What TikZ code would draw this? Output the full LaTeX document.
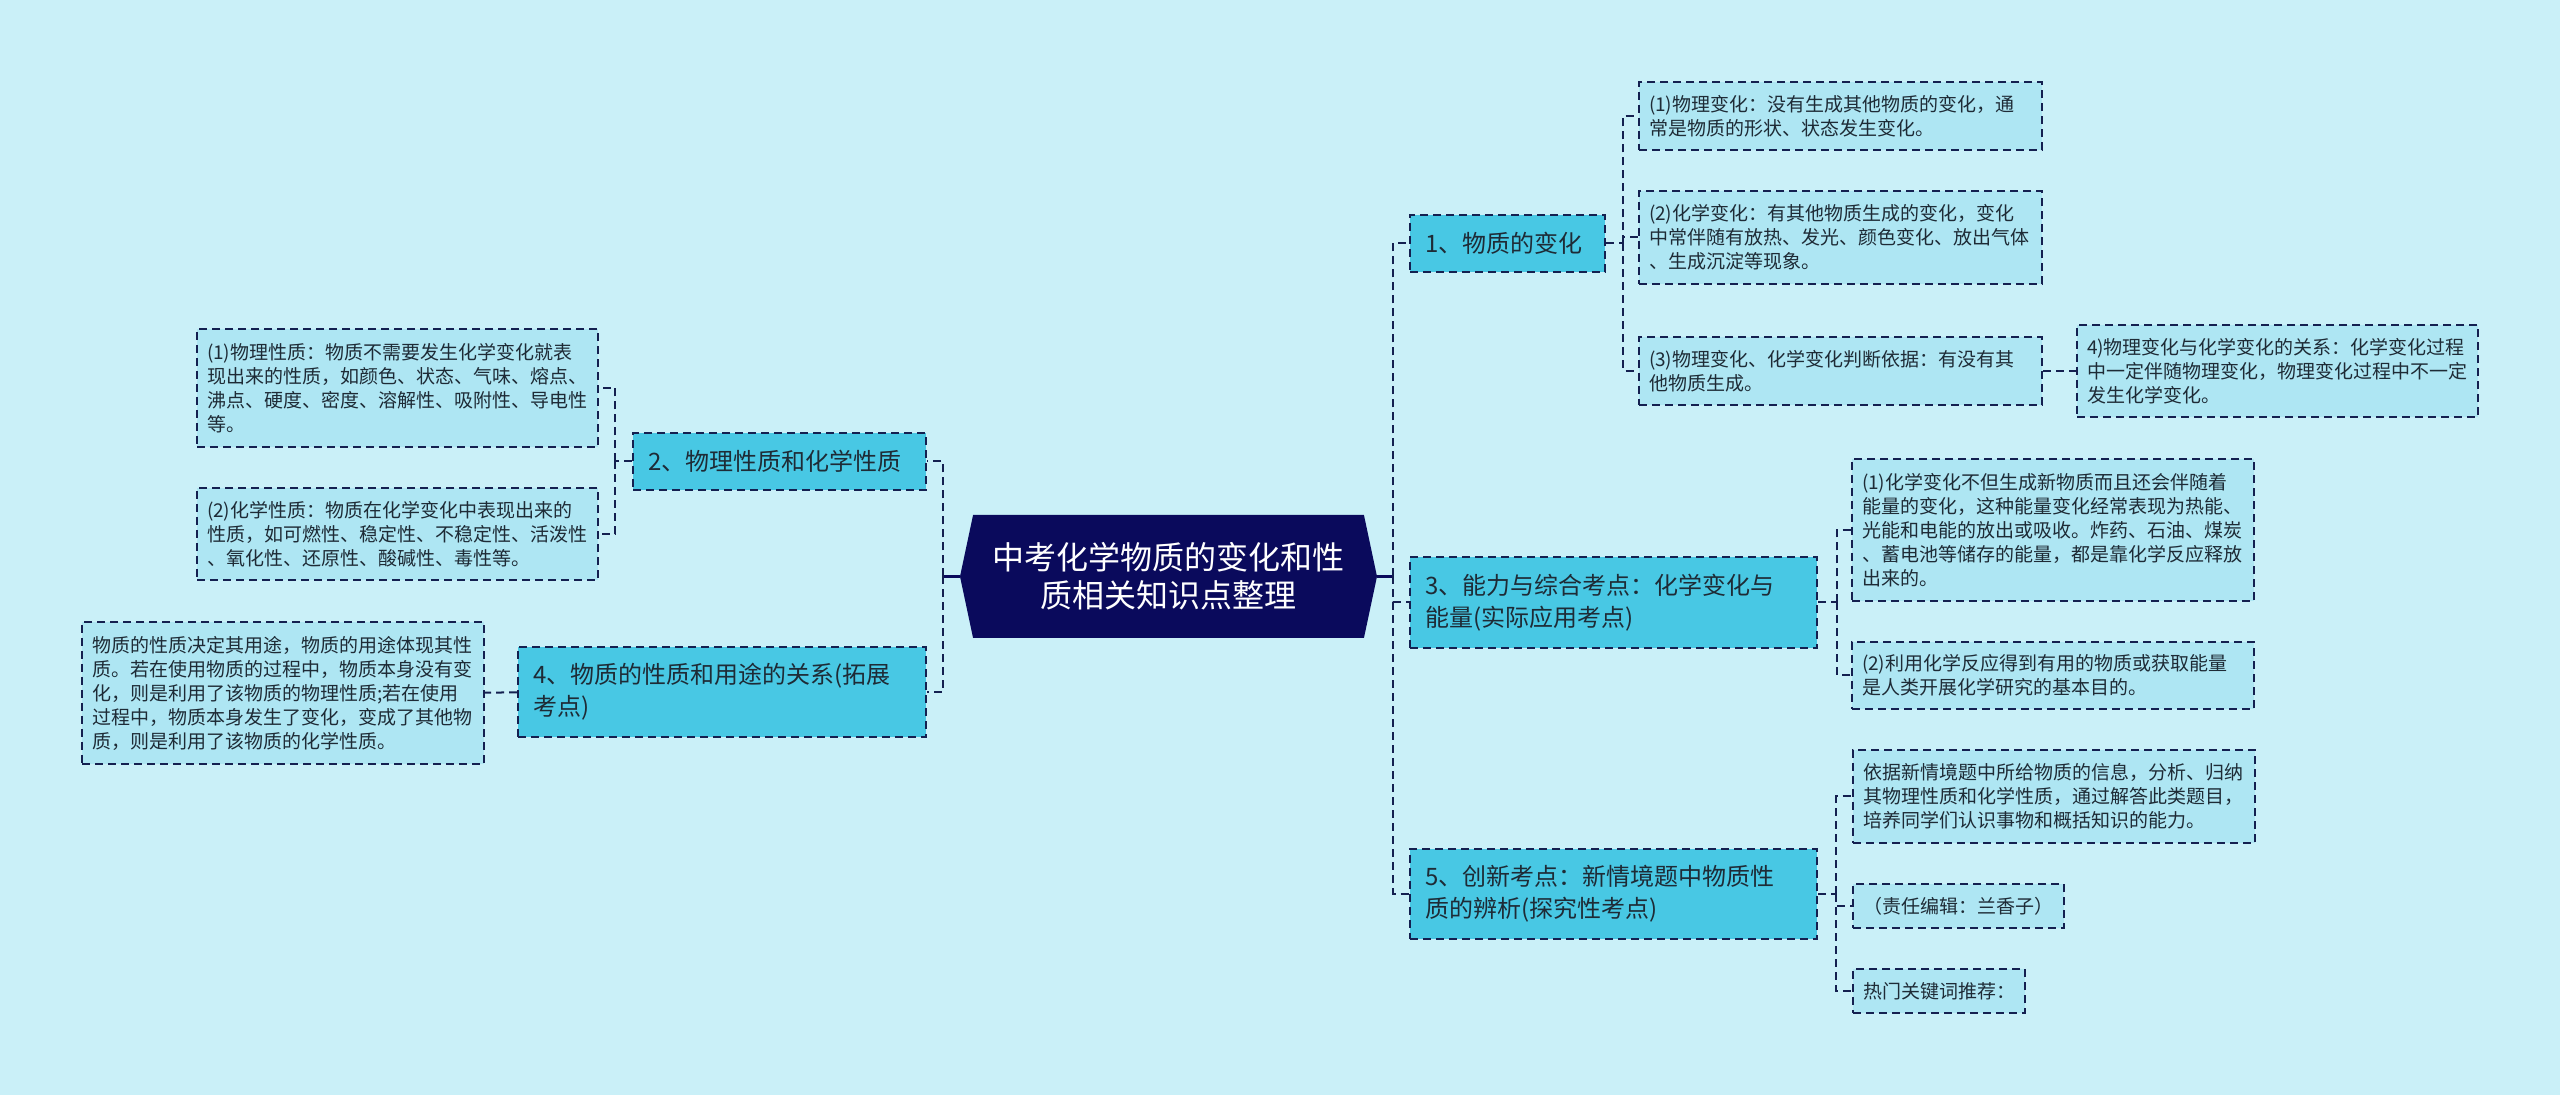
\documentclass[tikz,border=0pt]{standalone}
\usepackage{fontspec}
\setmainfont{Noto Sans CJK SC}
\usetikzlibrary{shapes.symbols}
\definecolor{paper}{HTML}{CAF0F8}
\definecolor{navy}{HTML}{0A0A5C}
\definecolor{edge}{HTML}{142050}
\definecolor{topicfill}{HTML}{48C8E4}
\definecolor{leaffill}{HTML}{AEE6F3}
\definecolor{ink}{HTML}{1E2B36}
\tikzstyle{link} = [draw=edge, line width=1pt, dash pattern=on 4pt off 2.5pt]
\tikzstyle{trunk} = [draw=navy, line width=1.5pt]
\tikzstyle{hub} = [signal, signal to=west and east, signal pointer angle=156, fill=navy, text=white, align=center, font=\fontsize{16}{19}\selectfont, minimum width=208.5pt, minimum height=61.5pt]
\tikzstyle{topic} = [link, fill=topicfill, text=ink, align=left, inner xsep=7.5pt, inner ysep=2pt, font=\fontsize{12}{16}\selectfont]
\tikzstyle{leaf} = [link, fill=leaffill, text=ink, align=left, inner xsep=5pt, inner ysep=2pt, text width=191pt, font=\fontsize{9.5}{12}\selectfont]

\begin{document}
\begin{tikzpicture}[x=0.5pt, y=-0.5pt]
    \fill [paper] (0,0) rectangle (2560,1095);
    \useasboundingbox (0,0) rectangle (2560,1095);

    \node (title) [hub] at (1168.5,576.5) {中考化学物质的变化和性\\质相关知识点整理};

    % right side
    \coordinate (right-fork) at (1393,576.5);
    \draw [trunk] (title.east) -- (right-fork);

    \node (topic-change) [topic, text width=82.5pt, minimum height=28.5pt] at (1507.5,243.5) {1、物质的变化};
    \draw [link] (right-fork) |- (topic-change);

    \node (topic-energy) [topic, text width=188.5pt, minimum height=45.5pt] at (1613.5,602.5) {3、能力与综合考点：化学变化与\\能量(实际应用考点)};
    \draw [link] (right-fork) |- (topic-energy);

    \node (topic-novel) [topic, text width=188.5pt, minimum height=45pt] at (1613.5,894) {5、创新考点：新情境题中物质性\\质的辨析(探究性考点)};
    \draw [link] (right-fork) |- (topic-novel);

    % left side
    \coordinate (left-fork) at (943,576.5);
    \draw [trunk] (title.west) -- (left-fork);

    \node (topic-property) [topic, text width=131.5pt, minimum height=28.5pt] at (779.5,461.5) {2、物理性质和化学性质};
    \draw [link] (left-fork) |- (topic-property);

    \node (topic-use) [topic, text width=189pt, minimum height=45pt] at (722,692) {4、物质的性质和用途的关系(拓展\\考点)};
    \draw [link] (left-fork) |- (topic-use);

    % 1
    \draw [link] (topic-change.east) -- ++(17,0) coordinate (change-fork);

    \node (change-phys) [leaf, text width=191.5pt, minimum height=34pt] at (1840.5,116) {(1)物理变化：没有生成其他物质的变化，通\\常是物质的形状、状态发生变化。};
    \draw [link] (change-fork) |- (change-phys);

    \node (change-chem) [leaf, text width=191.5pt, minimum height=46.5pt] at (1840.5,237.5) {(2)化学变化：有其他物质生成的变化，变化\\中常伴随有放热、发光、颜色变化、放出气体\\、生成沉淀等现象。};
    \draw [link] (change-fork) |- (change-chem);

    \node (change-judge) [leaf, text width=191.5pt, minimum height=34pt] at (1840.5,371) {(3)物理变化、化学变化判断依据：有没有其\\他物质生成。};
    \draw [link] (change-fork) |- (change-judge);

    \node (change-relation) [leaf, text width=190.5pt, minimum height=46pt] at (2277.5,371) {4)物理变化与化学变化的关系：化学变化过程\\中一定伴随物理变化，物理变化过程中不一定\\发生化学变化。};
    \draw [link] (change-judge) -- (change-relation);

    % 3
    \draw [link] (topic-energy.east) -- ++(19,0) coordinate (energy-fork);

    \node (energy-heat) [leaf, minimum height=71pt] at (2053,530) {(1)化学变化不但生成新物质而且还会伴随着\\能量的变化，这种能量变化经常表现为热能、\\光能和电能的放出或吸收。炸药、石油、煤炭\\、蓄电池等储存的能量，都是靠化学反应释放\\出来的。};
    \draw [link] (energy-fork) |- (energy-heat);

    \node (energy-aim) [leaf, minimum height=33.5pt] at (2053,675.5) {(2)利用化学反应得到有用的物质或获取能量\\是人类开展化学研究的基本目的。};
    \draw [link] (energy-fork) |- (energy-aim);

    % 5
    \draw [link] (topic-novel.east) -- ++(18,0) coordinate (novel-fork);

    \node (novel-info) [leaf, minimum height=46.5pt] at (2054,796.5) {依据新情境题中所给物质的信息，分析、归纳\\其物理性质和化学性质，通过解答此类题目，\\培养同学们认识事物和概括知识的能力。};
    \draw [link] (novel-fork) |- (novel-info);

    \node (novel-editor) [leaf, text width=95.5pt, minimum height=22pt] at (1958.5,906) {（责任编辑：兰香子）};
    \draw [link] (novel-fork) |- (novel-editor);

    \node (novel-keywords) [leaf, text width=76pt, minimum height=22pt] at (1939,991) {热门关键词推荐：};
    \draw [link] (novel-fork) |- (novel-keywords);

    % 2
    \draw [link] (topic-property.west) -- ++(-17,0) coordinate (property-fork);

    \node (property-phys) [leaf, text width=190.5pt, minimum height=59pt] at (397.5,388) {(1)物理性质：物质不需要发生化学变化就表\\现出来的性质，如颜色、状态、气味、熔点、\\沸点、硬度、密度、溶解性、吸附性、导电性\\等。};
    \draw [link] (property-fork) |- (property-phys);

    \node (property-chem) [leaf, text width=190.5pt, minimum height=46pt] at (397.5,534) {(2)化学性质：物质在化学变化中表现出来的\\性质，如可燃性、稳定性、不稳定性、活泼性\\、氧化性、还原性、酸碱性、毒性等。};
    \draw [link] (property-fork) |- (property-chem);

    % 4
    \node (use-detail) [leaf, minimum height=71pt] at (283,693) {物质的性质决定其用途，物质的用途体现其性\\质。若在使用物质的过程中，物质本身没有变\\化，则是利用了该物质的物理性质;若在使用\\过程中，物质本身发生了变化，变成了其他物\\质，则是利用了该物质的化学性质。};
    \draw [link] (topic-use) -- (use-detail);

\end{tikzpicture}
\end{document}
